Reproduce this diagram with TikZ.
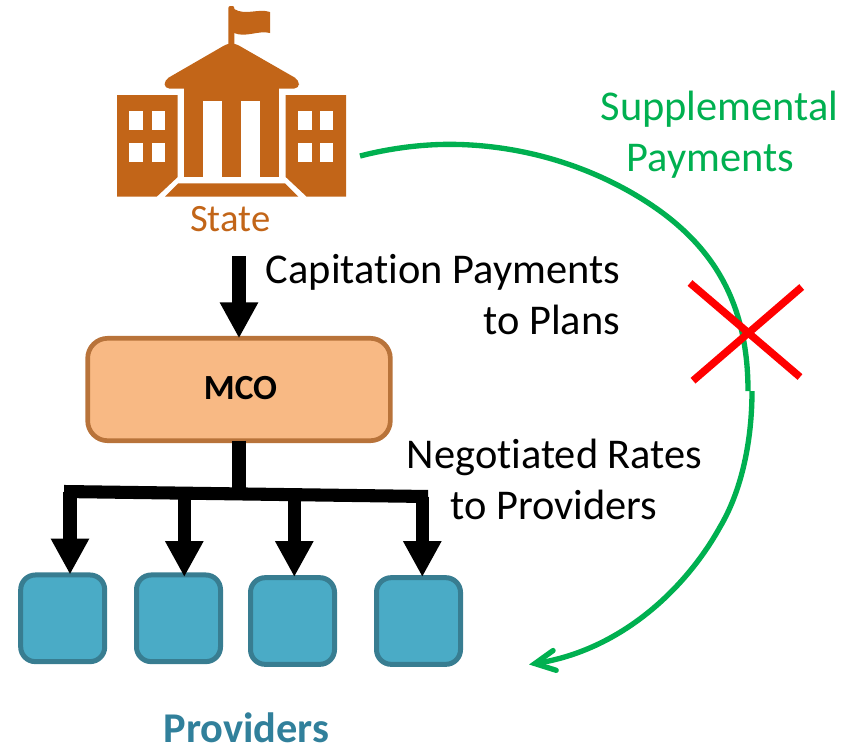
\documentclass[tikz,border=0pt]{standalone}
\usepackage{fontspec}
\setmainfont{Carlito}[Ligatures=CommonOff]
\usetikzlibrary{arrows.meta}
\definecolor{stateorange}{HTML}{C26518}
\definecolor{mcofill}{HTML}{F8B984}
\definecolor{mcoline}{HTML}{B8733A}
\definecolor{provfill}{HTML}{4AABC6}
\definecolor{provline}{HTML}{387D91}
\definecolor{provtext}{HTML}{31809B}
\definecolor{paygreen}{HTML}{00B050}
\tikzset{
  x=0.75pt,y=-0.75pt,
  bld/.style={fill=stateorange,draw=none},
  win/.style={fill=white,draw=none},
  txt/.style={font=\fontsize{31.8pt}{38pt}\selectfont,text=black,anchor=base,inner sep=0pt,outer sep=0pt},
  provbox/.style={draw=provline,fill=provfill,line width=3.75pt,rounded corners=11pt,minimum width=63pt,minimum height=65pt,inner sep=0pt,outer sep=0pt},
  flow/.style={draw=black,line width=9.8pt},
  flowtip/.style={flow,-{Triangle[width=27pt,length=27pt]}},
  green/.style={draw=paygreen,line width=4pt},
  cross/.style={draw=red,line width=5.6pt}
}
\begin{document}
\begin{tikzpicture}
\useasboundingbox (0,0) rectangle (852,747);
% building
\fill[bld] (117,95) -- (177.7,95) -- (177.7,177) -- (156.7,196.7) -- (117,196.7) -- cycle;
\fill[bld] (285.7,95) -- (346,95) -- (346,196.7) -- (306.7,196.7) -- (285.7,177) -- cycle;
\foreach \xa in {129.3,151.7,298.3,320}
  \foreach \ya in {110.7,142.7}
    \fill[win] (\xa,\ya) rectangle ++(13.4,19.3);
\fill[bld] (184,88) rectangle (279.3,101);
\fill[bld] (184,100) rectangle (202.7,177.3);
\fill[bld] (222,100) rectangle (240.7,177.3);
\fill[bld] (260,100) rectangle (279.3,177.3);
\fill[bld,rounded corners=3.5pt] (164.5,88.5) -- (164.5,80) -- (228,43.3) -- (235,43.3) -- (299,80) -- (299,88.5) -- cycle;
\fill[bld,rounded corners=1.5pt] (228.3,46) -- (228.3,6) -- (234.3,6) -- (234.3,46) -- cycle;
\fill[bld] (234,9) .. controls (246,16) and (258,8) .. (270,12) -- (270,33) .. controls (258,30) and (246,38) .. (234,33) -- cycle;
\fill[bld] (165,196.7) -- (178.3,183.3) -- (285,183.3) -- (298.3,196.7) -- cycle;
\node[txt,text=stateorange,font=\fontsize{29pt}{34pt}\selectfont] (state) at (230.3,231) {State};
\coordinate (stateout) at (239,256);
% MCO
\node[draw=mcoline,fill=mcofill,line width=3.5pt,rounded corners=15pt,minimum width=227pt,minimum height=76.8pt,inner sep=0pt,outer sep=0pt] (mco) at (239,389.5) {};
\node[font=\fontsize{26.5pt}{31pt}\selectfont\bfseries,anchor=base,inner sep=0pt] (mcolabel) at (240.5,399.5) {MCO};
\draw[flowtip] (stateout) -- (mco.north);
% providers
\node[provbox] (p1) at (62.7,618.3) {};
\node[provbox] (p2) at (178.5,618.3) {};
\node[provbox] (p3) at (292.5,621) {};
\node[provbox] (p4) at (418.5,621) {};
\coordinate (busl) at (64,491.5);
\coordinate (busr) at (428,496.5);
\coordinate (busc) at (239,494);
\coordinate (b1) at (70,491.5);
\coordinate (b2) at (184.3,493);
\coordinate (b3) at (294.3,494.5);
\coordinate (b4) at (422.3,496.5);
\coordinate (t1) at (70,574.5);
\coordinate (t2) at (184.3,577);
\coordinate (t3) at (294.3,577);
\coordinate (t4) at (422.3,577);
\draw[flow] (mco.south) -- (busc);
\draw[flow] (busl) -- (busr);
\draw[flowtip] (b1) -- (t1);
\draw[flowtip] (b2) -- (t2);
\draw[flowtip] (b3) -- (t3);
\draw[flowtip] (b4) -- (t4);
\node[font=\fontsize{31.8pt}{38pt}\selectfont\bfseries,text=provtext,anchor=base,inner sep=0pt] (provlabel) at (246.5,742.5) {Providers};
% labels
\node[txt,anchor=base east] (cap1) at (620,283) {Capitation Payments};
\node[txt,anchor=base east] (cap2) at (620,334.3) {to Plans};
\node[txt] (neg1) at (554.5,468.3) {Negotiated Rates};
\node[txt] (neg2) at (554,519.3) {to Providers};
\node[txt,text=paygreen] (sup1) at (719.5,120.5) {Supplemental};
\node[txt,text=paygreen] (sup2) at (710.5,171) {Payments};
% green curve
\coordinate (gs) at (360,156);
\coordinate (gm) at (748,391);
\coordinate (gn) at (752,391);
\coordinate (ge) at (529,664.5);
\draw[green] (gs) .. controls (395,147) and (430,143.5) .. (460,144.5) .. controls (540,147) and (610,175) .. (660,211) .. controls (715,251) and (748,305) .. (gm);
\draw[green,-{Straight Barb[length=15pt,width=15pt,line cap=round]}] (gn) .. controls (752,440) and (742,490) .. (720,527) .. controls (685,590) and (620,650) .. (ge);
% cross
\coordinate (x1) at (690,283);
\coordinate (x2) at (800,377);
\coordinate (x3) at (801.7,287);
\coordinate (x4) at (693,380.7);
\draw[cross] (x1) -- (x2);
\draw[cross] (x3) -- (x4);
\end{tikzpicture}
\end{document}
